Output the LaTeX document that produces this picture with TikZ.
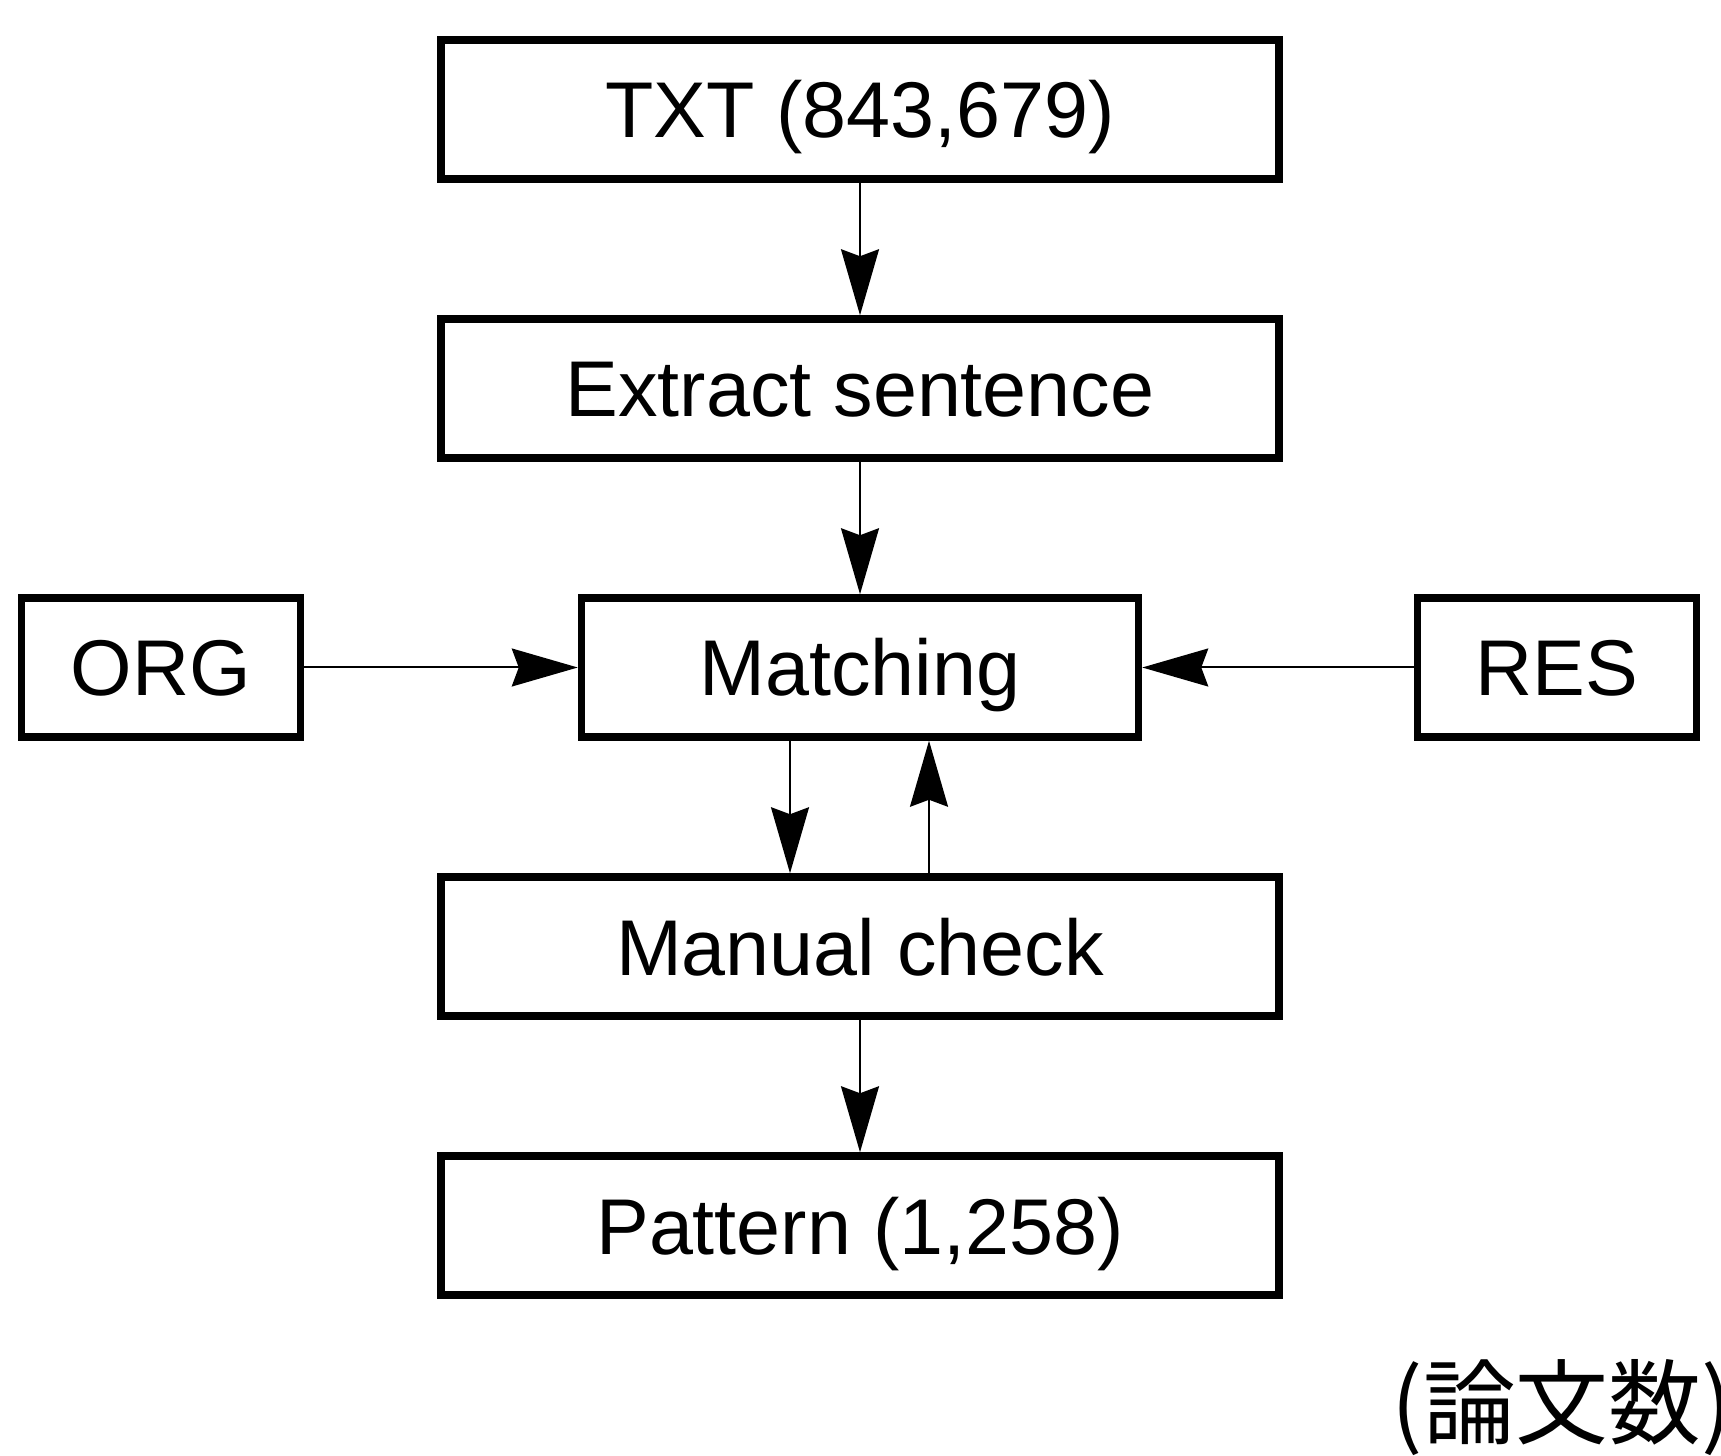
\documentclass[tikz,border=0pt]{standalone}
\usepackage{fontspec}
\setmainfont{Liberation Sans}
\newfontfamily\cjkfont{Noto Sans CJK JP}
\usetikzlibrary{positioning, arrows.meta}

\begin{document}
\begin{tikzpicture}[
            node distance=1.325cm,
            flow_block/.style={rectangle, draw, line width=0.075cm, minimum width=8.38cm, minimum height=1.39cm, inner sep=0pt, text height=0.57cm, text depth=0pt, font=\fontsize{22.5}{27}\selectfont},
            match_block/.style={flow_block, minimum width=5.57cm},
            side_block/.style={flow_block, minimum width=2.79cm},
            arrow/.style={draw, line width=0.02cm, -{Stealth[length=0.66cm, width=0.38cm, inset=0.07cm]}}
        ]
            \useasboundingbox (0,0) rectangle (17.21,-14.56);

            % --- Place the main column ---
            \node[flow_block] (txt) at (8.60,-1.095) {TXT (843,679)};
            \node[flow_block, below=of txt] (extract) {Extract sentence};
            \node[match_block, below=of extract] (matching) {Matching};
            \node[flow_block, below=of matching] (manual) {Manual check};
            \node[flow_block, below=of manual] (pattern) {Pattern (1,258)};

            % --- Inputs on both sides of the matching step ---
            \node[side_block, left=2.735cm of matching] (org) {ORG};
            \node[side_block, right=2.715cm of matching] (res) {RES};

            % Unit note in the lower right corner
            \node[anchor=base west, inner sep=0pt, font=\cjkfont\fontsize{26.4}{30}\selectfont] (unit) at (13.91,-14.37) {(論文数)};

            % --- Connect the steps ---
            \draw[arrow] (txt.south) -- (extract.north);
            \draw[arrow] (extract.south) -- (matching.north);
            \draw[arrow] (org.east) -- (matching.west);
            \draw[arrow] (res.west) -- (matching.east);

            % Check loop between matching and manual check
            \draw[arrow] ([xshift=-0.70cm]matching.south) -- ([xshift=-0.70cm]manual.north);
            \draw[arrow] ([xshift=0.69cm]manual.north) -- ([xshift=0.69cm]matching.south);

            \draw[arrow] (manual.south) -- (pattern.north);

        \end{tikzpicture}
\end{document}
